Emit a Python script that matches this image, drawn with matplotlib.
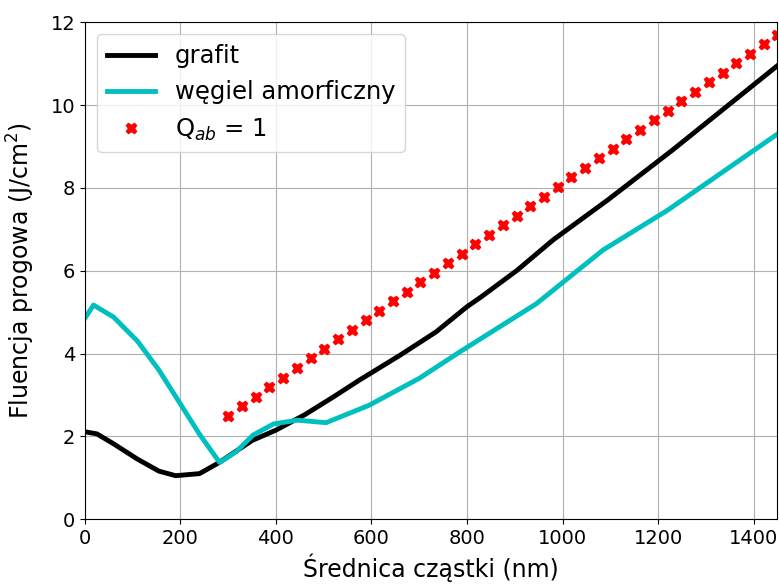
import matplotlib
matplotlib.use("Agg")
from matplotlib import pyplot as plt
import numpy as np

# grafit
d_grafit = [5, 25, 60, 110, 155, 190, 240, 280, 350, 400, 460, 520, 575,
            660, 735, 800, 830, 905, 980, 1095, 1230, 1450]
f_grafit = [2.1, 2.06, 1.82, 1.45, 1.16, 1.05, 1.10, 1.36, 1.9, 2.15, 2.52,
            2.95, 3.36, 3.96, 4.52, 5.13, 5.37, 6.01, 6.74, 7.71, 8.91, 10.95]

# wegiel amorficzny
d_wegiel = [0, 18, 60, 110, 155, 200, 240, 282, 317, 352, 395, 445, 505,
            595, 700, 785, 945, 1085, 1220, 1450]
f_wegiel = [4.85, 5.17, 4.88, 4.3, 3.6, 2.78, 2.05, 1.37, 1.63, 2.03, 2.3,
            2.39, 2.33, 2.75, 3.4, 4.04, 5.2, 6.5, 7.46, 9.3]

# Q_ab = 1
d_q = np.linspace(300, 1450, 41)
f_q = [2.50, 2.73, 2.96, 3.19, 3.42, 3.65, 3.88, 4.11, 4.34, 4.57,
       4.80, 5.03, 5.26, 5.49, 5.72, 5.95, 6.18, 6.41, 6.64, 6.87,
       7.10, 7.33, 7.56, 7.79, 8.02, 8.25, 8.48, 8.71, 8.94, 9.17,
       9.40, 9.63, 9.86, 10.09, 10.32, 10.55, 10.78, 11.01, 11.24, 11.47,
       11.70]

fig = plt.figure(figsize=(7.79, 5.84), dpi=100)
ax = fig.add_axes([0.109, 0.111, 0.889, 0.851])

ax.plot(d_grafit, f_grafit, color='k', lw=3.5, label='grafit')
ax.plot(d_wegiel, f_wegiel, color='c', lw=3.5, label='węgiel amorficzny')
ax.plot(d_q, f_q, 'rX', ms=7.5, ls='none', label='Q$_{ab}$ = 1')

ax.set_xlim(0, 1450)
ax.set_ylim(0, 12)
ax.set_xticks(np.arange(0, 1401, 200))
ax.set_yticks(np.arange(0, 13, 2))
ax.tick_params(labelsize=14)
ax.grid(True)
ax.set_xlabel('Średnica cząstki (nm)', fontsize=17)
ax.set_ylabel('Fluencja progowa (J/cm$^2$)', fontsize=17, labelpad=10)
ax.legend(loc='upper left', fontsize=17.5)

fig.savefig('out.png', dpi=100)
